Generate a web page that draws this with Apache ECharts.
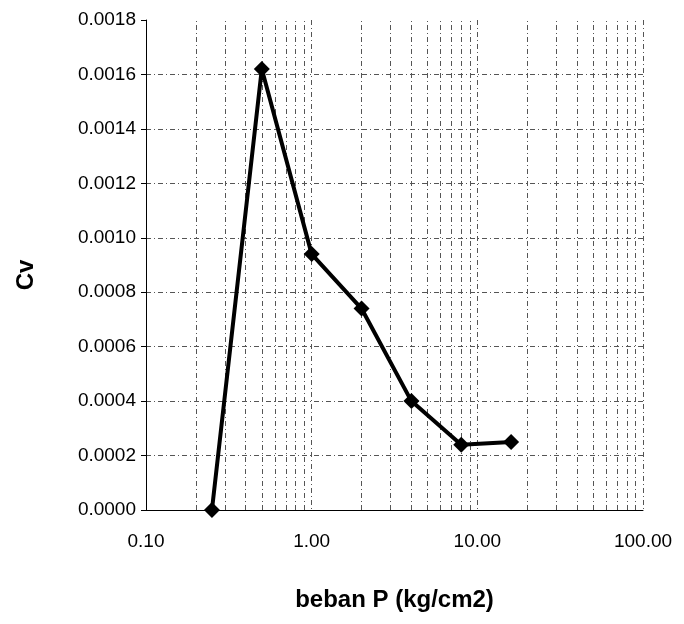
<!DOCTYPE html>
<html>
<head>
<meta charset="utf-8">
<title>Cv vs beban P</title>
<script src="https://cdn.jsdelivr.net/npm/echarts@6/dist/echarts.min.js"></script>
<style>
	html, body { margin: 0; padding: 0; background: #fff; }
	#chart { width: 684px; height: 624px; }
</style>
</head>
<body>
<div id="chart"></div>
<script>
	// data
	var beban = [0.25, 0.5, 1, 2, 4, 8, 16];
	var cv = [0, 0.00162, 0.00094, 0.00074, 0.0004, 0.00024, 0.00025];

	// minor log grid lines (2..9 in each decade)
	var minorGrid = [0.2, 0.3, 0.4, 0.5, 0.6, 0.7, 0.8, 0.9,
		2, 3, 4, 5, 6, 7, 8, 9,
		20, 30, 40, 50, 60, 70, 80, 90];

	var gridStyle = { color: '#555', width: 1, type: [5, 3, 1, 3] };
	var font = 'Liberation Sans, Arial, sans-serif';

	var chart = echarts.init(document.getElementById('chart'));
	chart.setOption({
		animation: false,
		backgroundColor: '#fff',
		grid: { left: 146, right: 41, top: 20, bottom: 114, containLabel: false },
		xAxis: {
			type: 'log',
			logBase: 10,
			min: 0.1,
			max: 100,
			splitNumber: 3,
			name: 'beban P (kg/cm2)',
			nameLocation: 'middle',
			nameGap: 78,
			nameTextStyle: { fontSize: 24, fontWeight: 'bold', color: '#000', fontFamily: font },
			axisLine: { show: true, lineStyle: { color: '#000', width: 1 } },
			axisTick: { show: false },
			axisLabel: {
				fontSize: 19, color: '#000', fontFamily: font, margin: 22,
				formatter: function (v) { return Number(v).toFixed(2); }
			},
			splitLine: { show: true, lineStyle: gridStyle }
		},
		yAxis: {
			type: 'value',
			min: 0,
			max: 0.0018,
			interval: 0.0002,
			name: 'Cv',
			nameLocation: 'middle',
			nameRotate: 90,
			nameGap: 108,
			nameTextStyle: { fontSize: 24, fontWeight: 'bold', color: '#000', fontFamily: font, padding: [0, 20, 0, 0] },
			axisLine: { show: true, lineStyle: { color: '#000', width: 1 } },
			axisTick: { show: true, length: 5, lineStyle: { color: '#000' } },
			axisLabel: {
				fontSize: 19, color: '#000', fontFamily: font, margin: 10,
				formatter: function (v) { return v.toFixed(4); }
			},
			splitLine: { show: true, showMaxLine: false, lineStyle: gridStyle }
		},
		series: [{
			type: 'line',
			data: beban.map(function (x, i) { return [x, cv[i]]; }),
			symbol: 'diamond',
			symbolSize: 16,
			lineStyle: { color: '#000', width: 4 },
			itemStyle: { color: '#000' },
			markLine: {
				silent: true,
				symbol: 'none',
				label: { show: false },
				lineStyle: gridStyle,
				data: minorGrid.map(function (v) { return { xAxis: v }; })
			},
			z: 5
		}]
	});
</script>
</body>
</html>
